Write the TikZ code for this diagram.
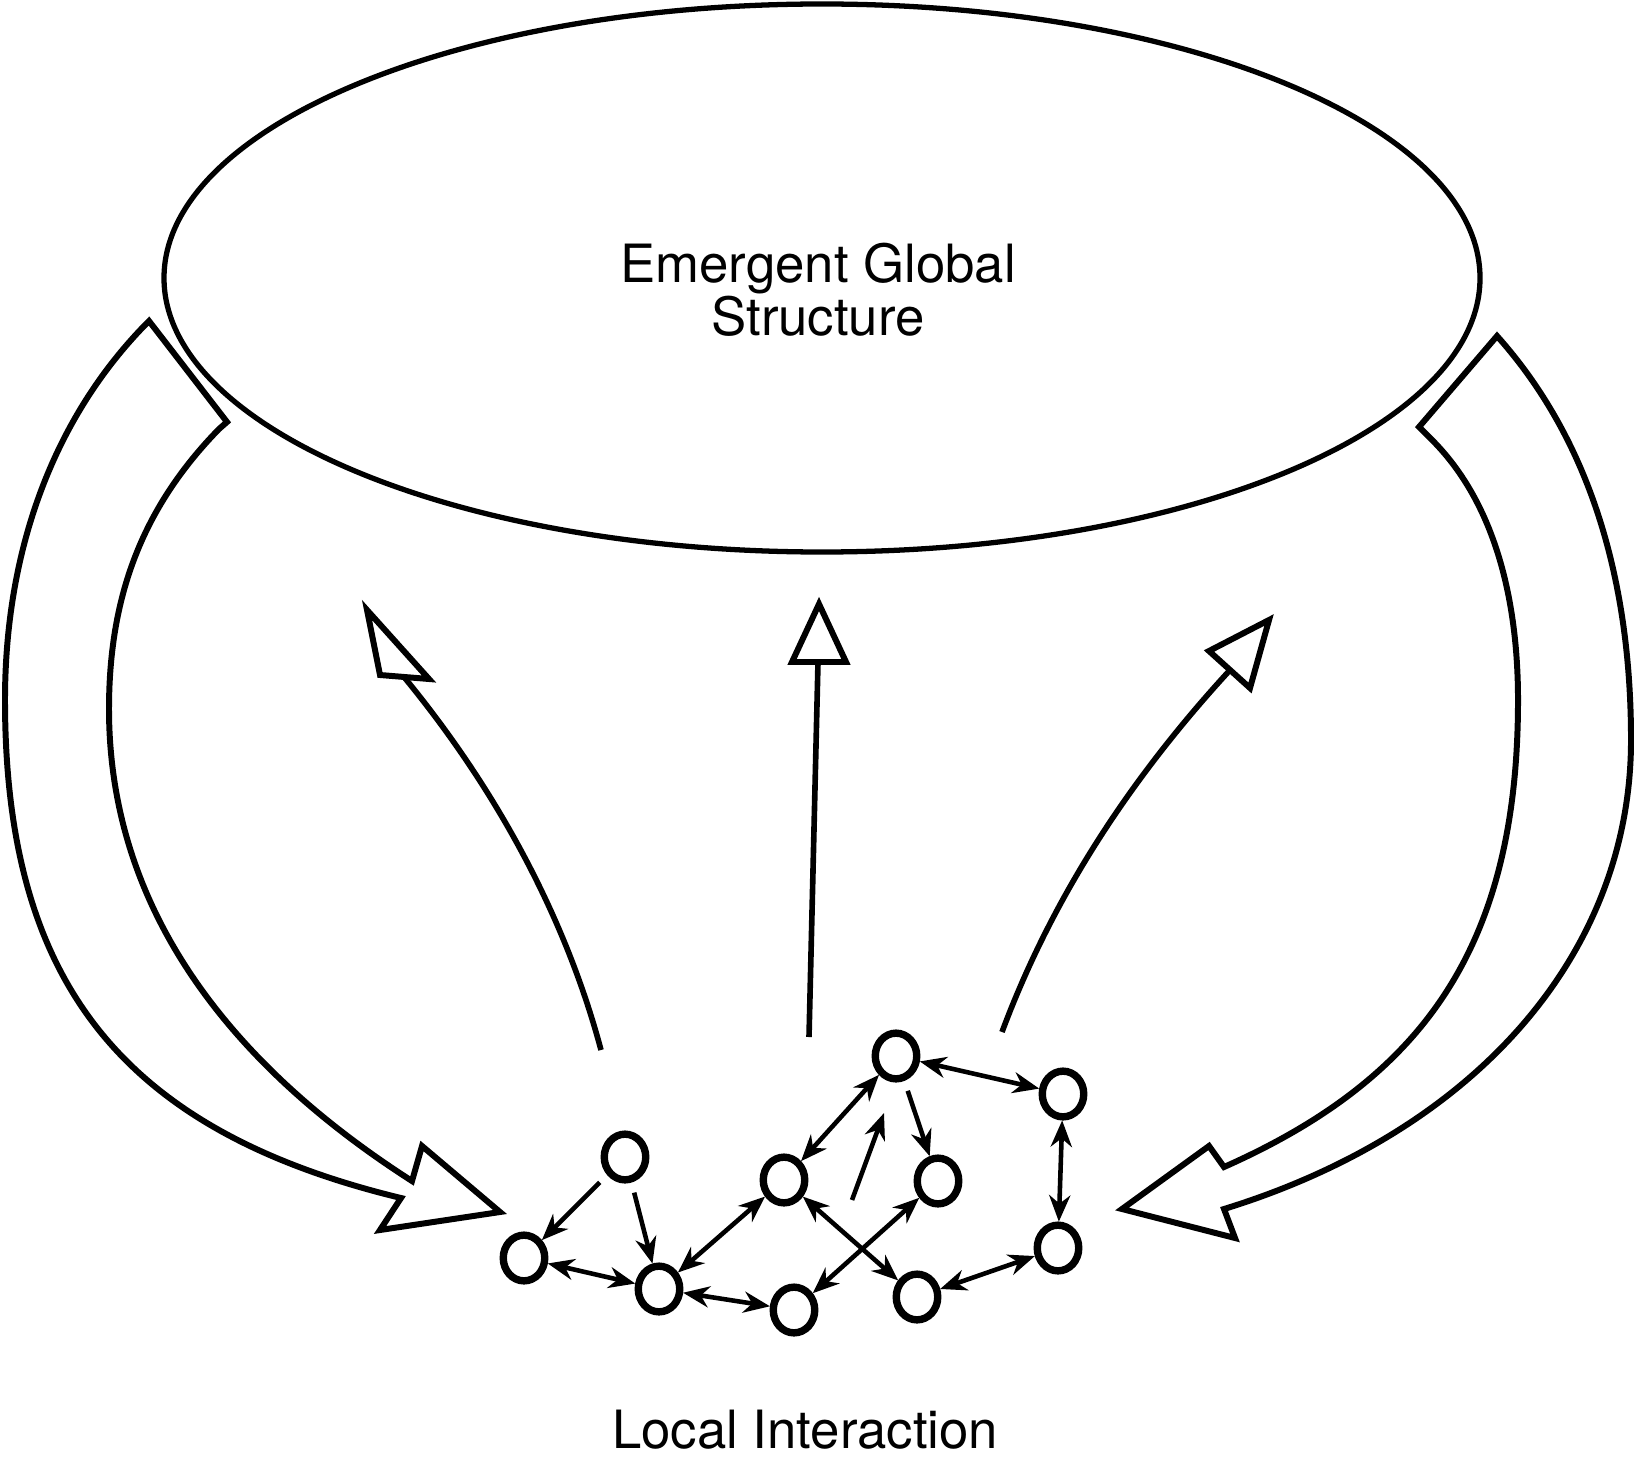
\documentclass[tikz,border=0pt]{standalone}
\usepackage{fontspec}
\setmainfont{TeX Gyre Heros}
\usetikzlibrary{arrows.meta,shapes.geometric}
\begin{document}
\begin{tikzpicture}[x=0.01cm,y=-0.01cm,
  >={Stealth[length=7.5pt,width=6pt,inset=2.4pt]},
  agent/.style={ellipse,draw,line width=2.1pt,minimum width=11.8pt,minimum height=13pt,inner sep=0pt,outer sep=1pt},
  both/.style={line width=1.3pt,<->},
  one/.style={line width=1.3pt,->,shorten <=3pt},
  band/.style={line width=1.7pt,line join=miter},
  upline/.style={line width=1.6pt},
  hollow/.style={line width=1.7pt,fill=white,line join=miter},
  lbl/.style={font=\fontsize{15}{18}\selectfont,anchor=base,inner sep=0pt}]
\useasboundingbox (0,0) rectangle (1634,1458);

% global structure
\draw[line width=1.5pt] (822,278) ellipse [x radius=658, y radius=274];
\node[lbl] (t1) at (818,283) {Emergent Global};
\node[lbl] (t2) at (818,336) {Structure};
\node[lbl] (t3) at (805,1448) {Local Interaction};

% left feedback band
\draw[band] (149,321) -- (227,422) -- (219,429)
  .. controls (140,510) and (109,600) .. (109,709)
  .. controls (109,940) and (270,1090) .. (412,1181)
  -- (422,1146) -- (500,1212) -- (380,1230) -- (401,1198)
  .. controls (120,1130) and (5,980) .. (5,700)
  .. controls (5,540) and (60,410) .. (149,321)
  -- cycle;

% right feedback band
\draw[band] (1497,336) -- (1419,427) -- (1428,436)
  .. controls (1495,500) and (1518,600) .. (1518,700)
  .. controls (1518,950) and (1420,1080) .. (1224,1167)
  -- (1209,1146) -- (1122,1209) -- (1235,1238) -- (1224,1209)
  .. controls (1480,1130) and (1631,950) .. (1631,740)
  .. controls (1631,580) and (1590,440) .. (1497,336)
  -- cycle;

% emergence arrows
\coordinate (l0) at (601,1050);
\coordinate (l1) at (404,677);
\coordinate (m0) at (809,1037);
\coordinate (m1) at (818,662);
\coordinate (r0) at (1002,1032);
\coordinate (r1) at (1230,670);
\draw[upline] (l0) .. controls (567,923) and (501,795) .. (l1);
\draw[upline] (m0) -- (m1);
\draw[upline] (r0) .. controls (1050,903) and (1126,783) .. (r1);
\draw[hollow] (367,610) -- (429,679) -- (380,675) -- cycle;
\draw[hollow] (819,604) -- (846,662) -- (792,662) -- cycle;
\draw[hollow] (1269,620) -- (1250,688) -- (1209,651) -- cycle;

% agents
\node[agent] (A) at (625,1157) {};
\node[agent] (B) at (524,1258) {};
\node[agent] (C) at (659,1289) {};
\node[agent] (D) at (794,1310) {};
\node[agent] (E) at (784,1180) {};
\node[agent] (F) at (896,1056) {};
\node[agent] (G) at (938,1181) {};
\node[agent] (H) at (917,1297) {};
\node[agent] (I) at (1063,1094) {};
\node[agent] (J) at (1058,1248) {};

\draw[one] (A) -- (B);
\draw[one] (A) -- (C);
\draw[both] (B) -- (C);
\draw[both] (C) -- (E);
\draw[both] (C) -- (D);
\draw[both] (E) -- (F);
\draw[both] (E) -- (H);
\draw[both] (G) -- (D);
\draw[one] (F) -- (G);
\draw[both] (F) -- (I);
\draw[both] (I) -- (J);
\draw[both] (J) -- (H);
\coordinate (fa) at (852,1200);
\coordinate (fb) at (884,1113);
\draw[line width=1.3pt,->] (fa) -- (fb);
\end{tikzpicture}
\end{document}
